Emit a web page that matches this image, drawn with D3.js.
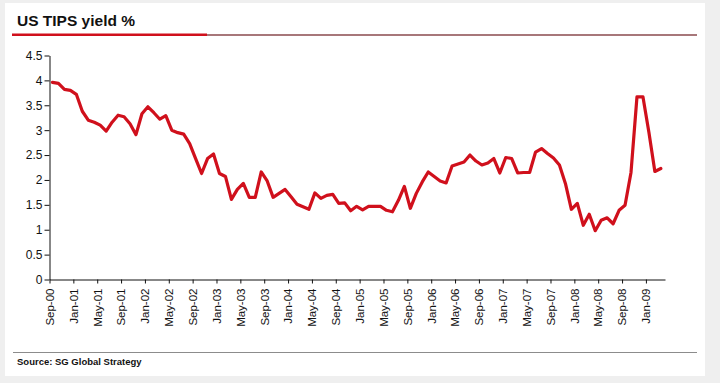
<!DOCTYPE html>
<html>
<head>
<meta charset="utf-8">
<script src="https://cdn.jsdelivr.net/npm/d3@7"></script>
<style>
  html, body { margin: 0; padding: 0; background: #efefef; }
  svg { display: block; }
</style>
</head>
<body>
<svg id="chart" width="720" height="383"></svg>
<script>
// ---- data ----
const title = "US TIPS yield %";
const source = "Source: SG Global Strategy";
const startMonth = "2000-09";
// monthly TIPS yield, Sep-00 .. Mar-09
const yieldValues = [
  3.96, 3.94, 3.82, 3.80, 3.72, 3.38, 3.20, 3.16, 3.10, 2.98,
  3.16, 3.30, 3.27, 3.13, 2.91, 3.33, 3.47, 3.35, 3.22, 3.29,
  3.00, 2.95, 2.92, 2.73, 2.43, 2.13, 2.43, 2.52, 2.13, 2.07,
  1.61, 1.81, 1.93, 1.65, 1.65, 2.16, 1.98, 1.65, 1.73, 1.81,
  1.66, 1.51, 1.46, 1.41, 1.74, 1.63, 1.69, 1.71, 1.53, 1.54,
  1.38, 1.47, 1.40, 1.47, 1.47, 1.47, 1.39, 1.36, 1.59, 1.87,
  1.43, 1.73, 1.96, 2.16, 2.07, 1.98, 1.94, 2.28, 2.32, 2.36,
  2.50, 2.38, 2.30, 2.34, 2.43, 2.14, 2.45, 2.43, 2.14, 2.15,
  2.15, 2.56, 2.63, 2.53, 2.44, 2.30, 1.93, 1.41, 1.53, 1.09,
  1.31, 0.98, 1.19, 1.24, 1.12, 1.39, 1.49, 2.15, 3.67, 3.67,
  2.96, 2.17, 2.23
];
const xTickLabels = [
  "Sep-00","Jan-01","May-01","Sep-01","Jan-02","May-02","Sep-02","Jan-03",
  "May-03","Sep-03","Jan-04","May-04","Sep-04","Jan-05","May-05","Sep-05",
  "Jan-06","May-06","Sep-06","Jan-07","May-07","Sep-07","Jan-08","May-08",
  "Sep-08","Jan-09"
];
const yTicks = [0, 0.5, 1, 1.5, 2, 2.5, 3, 3.5, 4, 4.5];

// ---- build ----
const parseMonth = d3.timeParse("%Y-%m");
const start = parseMonth(startMonth);
const months = d3.timeMonth.range(start, d3.timeMonth.offset(start, yieldValues.length));
const data = months.map((m, i) => ({ i, month: m, value: yieldValues[i] }));
const tickIdx = xTickLabels.map((lab, k) => k * 4);

const svg = d3.select("#chart");

// white panel
svg.append("rect").attr("x", 5).attr("y", 3).attr("width", 700).attr("height", 373).attr("fill", "#ffffff");

// title
svg.append("text")
  .attr("x", 17).attr("y", 26)
  .attr("font-family", "Liberation Sans, Arial, sans-serif")
  .attr("font-weight", "bold").attr("font-size", 15.5)
  .attr("fill", "#111")
  .text(title);

// title rule
svg.append("line").attr("x1", 12).attr("x2", 697).attr("y1", 35).attr("y2", 35)
  .attr("stroke", "#8a4a4e").attr("stroke-width", 1.3);
svg.append("line").attr("x1", 12).attr("x2", 207).attr("y1", 34.8).attr("y2", 34.8)
  .attr("stroke", "#d0101c").attr("stroke-width", 2.4);

// bottom rule
svg.append("line").attr("x1", 13).attr("x2", 697).attr("y1", 352.5).attr("y2", 352.5)
  .attr("stroke", "#8c8c8c").attr("stroke-width", 1.2);

// source
svg.append("text")
  .attr("x", 17).attr("y", 365)
  .attr("font-family", "Liberation Sans, Arial, sans-serif")
  .attr("font-weight", "bold").attr("font-size", 9.5)
  .attr("fill", "#111")
  .text(source);

// scales
const x = d3.scaleLinear().domain([0, 103.2]).range([49.5, 665]);
const y = d3.scaleLinear().domain([0, 4.5]).range([279.5, 55.5]);

// y axis
const yAxis = svg.append("g")
  .attr("transform", "translate(49.5,0)")
  .call(d3.axisLeft(y).tickValues(yTicks).tickFormat(d => String(d)).tickSize(5).tickSizeOuter(0).tickPadding(2));
yAxis.select(".domain").attr("stroke", "#111");
yAxis.selectAll(".tick line").attr("stroke", "#111");
yAxis.selectAll(".tick text")
  .attr("font-family", "Liberation Sans, Arial, sans-serif")
  .attr("font-size", 12).attr("fill", "#111");

// x axis
const xAxis = svg.append("g")
  .attr("transform", "translate(0,279.5)")
  .call(d3.axisBottom(x).tickValues(tickIdx).tickFormat((d, k) => xTickLabels[k]).tickSize(4).tickSizeOuter(0));
xAxis.select(".domain").attr("stroke", "#111");
xAxis.selectAll(".tick line").attr("stroke", "#111");
xAxis.selectAll(".tick text")
  .attr("font-family", "Liberation Sans, Arial, sans-serif")
  .attr("font-size", 11.5).attr("fill", "#111")
  .attr("text-anchor", "end")
  .attr("transform", "translate(0,9) rotate(-90)")
  .attr("x", 0).attr("y", 0).attr("dy", "0.33em");

// line
const line = d3.line()
  .x(d => x(d.i + 0.5))
  .y(d => y(d.value));
svg.append("path")
  .datum(data)
  .attr("fill", "none")
  .attr("stroke", "#d0101c")
  .attr("stroke-width", 3.2)
  .attr("stroke-linejoin", "round")
  .attr("stroke-linecap", "round")
  .attr("d", line);
</script>
</body>
</html>
